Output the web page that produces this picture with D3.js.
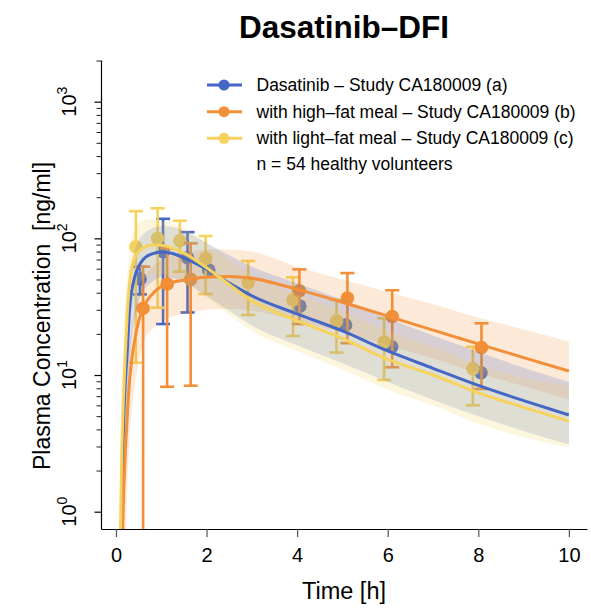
<!DOCTYPE html>
<html>
<head>
<meta charset="utf-8">
<script src="https://cdn.jsdelivr.net/npm/d3@7"></script>
<style>
  body { margin: 0; background: #fff; }
  text { font-family: "Liberation Sans", Arial, sans-serif; fill: #000; }
</style>
</head>
<body>
<script>
const obsTimeA = [0.53, 1.04, 1.58, 2.05, 4.06, 5.07, 6.09, 8.06];
const obsMeanA = [50.5, 79.8, 72.1, 58.6, 31.9, 23.2, 16.1, 10.4];
const obsLowA  = [38.9, 23.6, 28.7, null, null, null, null, null];
const obsHighA = [62, 139, 111, null, null, null, null, null];

const obsTimeB = [0.60, 1.13, 1.65, 4.05, 5.11, 6.10, 8.07];
const obsMeanB = [30.8, 46.3, 50.1, 41.4, 36.6, 26.8, 15.9];
const obsLowB  = [0, 8.2, 8.35, 23.6, 17.1, 11.4, 7.9];
const obsHighB = [62, 84.5, 91.9, 59.3, 55.7, 41.7, 23.9];

const obsTimeC = [0.44, 0.92, 1.41, 1.98, 2.92, 3.91, 4.87, 5.92, 7.88];
const obsMeanC = [86.7, 100, 96, 71.4, 47.6, 35.4, 24.8, 17.4, 11.1];
const obsLowC  = [12.3, 31.1, 57, 39.1, 27.5, 19.3, 14.6, 9.2, 6.0];
const obsHighC = [158, 166, 134.5, 104, 68.3, 51.9, 35.4, 26, 16.1];

// simulated curves and variability bands
const simTimeA = [0.12, 0.15, 0.2, 0.25, 0.3, 0.4, 0.5, 0.6, 0.8, 1, 1.25, 1.5, 2, 2.5, 3, 4, 5, 6, 7, 8, 9, 10];
const simMeanA = [0.4, 2.5, 8, 15, 30, 50, 62, 70, 77, 79.5, 77.5, 72, 59.5, 47, 38, 28, 21, 15, 11.2, 8.4, 6.5, 5.1];
const simLowA  = [0.1, 0.5, 2, 5, 11, 24, 34, 41, 48, 52, 51, 47.5, 38, 29.5, 23, 16.5, 12.2, 8.9, 6.6, 5, 3.9, 3.1];
const simHighA = [1, 6, 16, 28, 50, 78, 96, 107, 118, 123, 121, 113, 93, 75, 62, 47, 35.5, 26, 19.5, 14.8, 11.3, 8.9];

const simTimeB = [0.13, 0.15, 0.2, 0.25, 0.3, 0.35, 0.45, 0.6, 0.8, 1.1, 1.65, 2, 2.5, 3, 4, 5, 6, 7, 8, 9, 10];
const simMeanB = [0.3, 0.75, 2.4, 5, 9, 13, 21, 31, 39, 46, 50.3, 52.2, 52.5, 51, 42.3, 34.1, 27, 21.3, 16.9, 13.4, 10.7];
const simLowB  = [0.05, 0.1, 0.4, 1.5, 3.5, 5.5, 10, 17, 21.5, 25.5, 28.5, 30, 30.5, 29.5, 25, 20.5, 16.5, 13.2, 10.3, 8.3, 6.6];
const simHighB = [0.8, 2, 6, 11, 17, 23, 34, 50, 62, 72, 80, 83, 83, 80, 62, 50, 40.5, 33, 26.3, 21.5, 17.5];

const simTimeC = [0.09, 0.12, 0.16, 0.2, 0.25, 0.3, 0.4, 0.5, 0.6, 0.8, 1, 1.25, 1.5, 2, 2.5, 3, 4, 5, 6, 7, 8, 9, 10];
const simMeanC = [0.4, 2, 6, 12.9, 28, 47, 70, 80, 85, 89.5, 89, 85, 78, 61, 46, 35, 25, 18.5, 13, 10, 7.4, 5.8, 4.6];
const simLowC  = [0.1, 0.4, 1.5, 4, 10, 20, 36, 45, 50, 54, 55, 52, 48, 37, 27.5, 21, 15, 11, 7.8, 6, 4.4, 3.5, 2.95];
const simHighC = [1.2, 6, 17, 32, 55, 80, 112, 130, 136, 138, 134, 128, 118, 92, 70, 54, 39, 29, 21, 16, 12, 9.5, 8.3];

const legendLabels = [
  "Dasatinib – Study CA180009 (a)",
  "with high–fat meal – Study CA180009 (b)",
  "with light–fat meal – Study CA180009 (c)"
];
const legendNote = "n = 54 healthy volunteers";
const xTicks = [0, 2, 4, 6, 8, 10];
const yMajor = [1, 10, 100, 1000];

const colA = "#4467c6", colB = "#f28f38", colC = "#f5d35c";

const series = [
  {color: colA, t: obsTimeA, m: obsMeanA, lo: obsLowA, hi: obsHighA, st: simTimeA, sm: simMeanA, sl: simLowA, sh: simHighA},
  {color: colB, t: obsTimeB, m: obsMeanB, lo: obsLowB, hi: obsHighB, st: simTimeB, sm: simMeanB, sl: simLowB, sh: simHighB},
  {color: colC, t: obsTimeC, m: obsMeanC, lo: obsLowC, hi: obsHighC, st: simTimeC, sm: simMeanC, sl: simLowC, sh: simHighC}
];

const W = 591, H = 610;
const plotLeft = 101, plotRight = 587, plotTop = 60, plotBottom = 529;

const x = d3.scaleLinear().domain([-0.33, 10.4]).range([plotLeft, plotRight]);
const y = d3.scaleLog().domain([0.747, 2018]).range([plotBottom, plotTop]);
const yv = v => (v == null || v <= 0) ? plotBottom + 5 : y(v);

const svg = d3.select("body").append("svg")
  .attr("width", W).attr("height", H);

svg.append("defs").append("clipPath").attr("id", "plotclip")
  .append("rect").attr("x", plotLeft).attr("y", plotTop)
  .attr("width", plotRight - plotLeft).attr("height", plotBottom - plotTop);

const plot = svg.append("g").attr("clip-path", "url(#plotclip)");

// observed points with SD bars (drawn first, bands lie over them)
[0, 2, 1].forEach(k => {
  const s = series[k];
  const g = plot.append("g");
  s.t.forEach((t, i) => {
    if (s.hi[i] == null) return;
    const cx = x(t);
    g.append("line").attr("x1", cx).attr("x2", cx)
      .attr("y1", yv(s.lo[i])).attr("y2", y(s.hi[i]))
      .attr("stroke", s.color).attr("stroke-width", 2.6);
    g.append("line").attr("x1", cx - 7).attr("x2", cx + 7)
      .attr("y1", y(s.hi[i])).attr("y2", y(s.hi[i]))
      .attr("stroke", s.color).attr("stroke-width", 2.6);
    if (s.lo[i] > 0)
      g.append("line").attr("x1", cx - 7).attr("x2", cx + 7)
        .attr("y1", y(s.lo[i])).attr("y2", y(s.lo[i]))
        .attr("stroke", s.color).attr("stroke-width", 2.6);
  });
  g.selectAll("circle").data(s.t).join("circle")
    .attr("cx", d => x(d))
    .attr("cy", (d, i) => y(s.m[i]))
    .attr("r", 6.8)
    .attr("fill", s.color);
});

// variability bands
const area = d3.area()
  .x(d => x(d[0])).y0(d => y(d[1])).y1(d => y(d[2]))
  .curve(d3.curveMonotoneX);
[1, 0, 2].forEach(k => {
  const s = series[k];
  plot.append("path")
    .datum(s.st.map((t, i) => [t, s.sl[i], s.sh[i]]))
    .attr("d", area)
    .attr("fill", s.color)
    .attr("fill-opacity", 0.2);
});

// simulated mean curves
const line = d3.line().x(d => x(d[0])).y(d => y(d[1])).curve(d3.curveMonotoneX);
[0, 1, 2].forEach(k => {
  const s = series[k];
  plot.append("path")
    .datum(s.st.map((t, i) => [t, s.sm[i]]))
    .attr("d", line)
    .attr("fill", "none")
    .attr("stroke", s.color)
    .attr("stroke-width", 3);
});

// axes
const xAxis = d3.axisBottom(x).tickValues(xTicks).tickSize(8).tickSizeOuter(0)
  .tickFormat(d3.format("d"));
svg.append("g").attr("transform", `translate(0,${plotBottom})`).call(xAxis)
  .call(g => g.select(".domain").attr("stroke", "#000").attr("stroke-width", 1.2))
  .call(g => g.selectAll(".tick line").attr("stroke", "#555").attr("stroke-width", 1.2))
  .call(g => g.selectAll(".tick text").attr("y", 33).attr("dy", null)
    .style("font-size", "20px").style("font-family", "'Liberation Sans', Arial, sans-serif").attr("fill", "#000"));

const yMinor = [];
[1, 10, 100, 1000].forEach(dec => d3.range(2, 10).forEach(m => {
  const v = dec * m;
  if (v >= 0.747 && v <= 2018) yMinor.push(v);
}));
svg.append("g").attr("transform", `translate(${plotLeft},0)`)
  .call(d3.axisLeft(y).tickValues(yMinor).tickSize(4.5).tickSizeOuter(0).tickFormat(""))
  .call(g => g.select(".domain").attr("stroke", "#000").attr("stroke-width", 1.2))
  .call(g => g.selectAll(".tick line").attr("stroke", "#222"));
svg.append("g").attr("transform", `translate(${plotLeft},0)`)
  .call(d3.axisLeft(y).tickValues(yMajor).tickSize(6.5).tickSizeOuter(0).tickFormat(""))
  .call(g => g.select(".domain").remove())
  .call(g => g.selectAll(".tick line").attr("stroke", "#000").attr("stroke-width", 1.2));

// y tick labels: 10^k, rotated
yMajor.forEach((v, k) => {
  const t = svg.append("text")
    .attr("transform", `translate(75.5,${y(v)}) rotate(-90)`)
    .attr("text-anchor", "middle")
    .style("font-size", "20px");
  t.append("tspan").text("10");
  t.append("tspan").attr("dy", -9).style("font-size", "14px").text(String(k));
});

// titles
svg.append("text").attr("x", 344).attr("y", 38).attr("text-anchor", "middle")
  .style("font-size", "31.5px").style("font-weight", "bold").text("Dasatinib–DFI");
svg.append("text").attr("x", 344).attr("y", 599).attr("text-anchor", "middle")
  .style("font-size", "23.5px").text("Time [h]");
svg.append("text").attr("transform", "translate(50,316) rotate(-90)")
  .attr("text-anchor", "middle").style("font-size", "23px")
  .attr("xml:space", "preserve").text("Plasma Concentration  [ng/ml]");

// legend
const legY = [85, 111.7, 138.3];
const leg = svg.append("g");
legendLabels.forEach((lab, i) => {
  const c = series[i].color;
  leg.append("line").attr("x1", 207).attr("x2", 242).attr("y1", legY[i]).attr("y2", legY[i])
    .attr("stroke", c).attr("stroke-width", 3);
  leg.append("circle").attr("cx", 224).attr("cy", legY[i]).attr("r", 5.5).attr("fill", c);
  leg.append("text").attr("x", 256.5).attr("y", legY[i]).attr("dy", "0.35em")
    .style("font-size", "17.5px").text(lab);
});
leg.append("text").attr("x", 256.5).attr("y", 163.5).attr("dy", "0.35em")
  .style("font-size", "17.5px").text(legendNote);
</script>
</body>
</html>
